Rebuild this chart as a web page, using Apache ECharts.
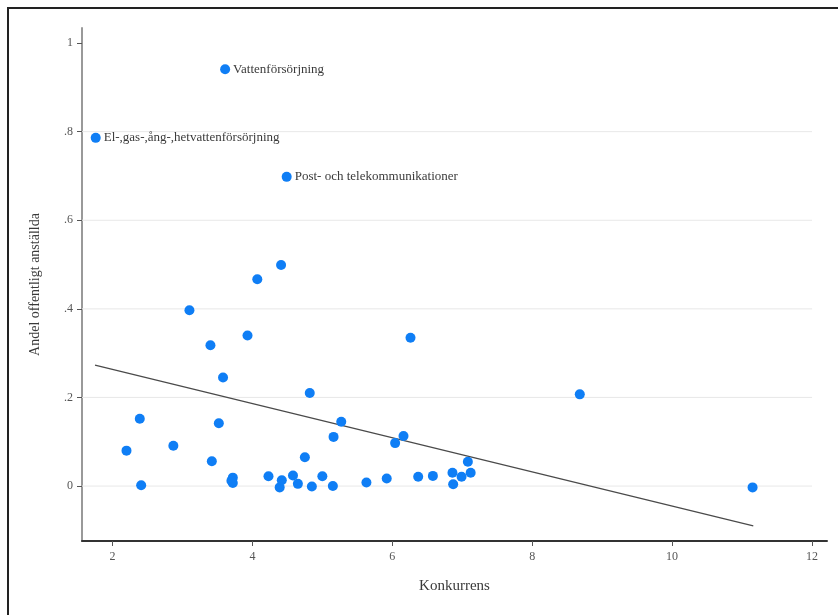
<!DOCTYPE html>
<html>
<head>
<meta charset="utf-8">
<style>html,body{margin:0;padding:0;background:#fff;}#c{width:838px;height:615px;}</style>
<script src="https://cdn.jsdelivr.net/npm/echarts@6/dist/echarts.min.js"></script>
</head>
<body>
<div id="c"></div>
<script>
// Data
var konkurrens = [1.76, 3.61, 4.49, 2.20, 2.39, 2.41, 2.87, 3.10, 3.40, 3.42, 3.52, 3.58, 3.72, 3.72, 3.70,
  3.93, 4.07, 4.23, 4.41, 4.39, 4.42, 4.58, 4.65, 4.75, 4.82, 4.85, 5.00, 5.16, 5.15, 5.27,
  5.63, 5.92, 6.04, 6.16, 6.26, 6.37, 6.58, 6.86, 6.87, 6.99, 7.12, 7.08, 8.68, 11.15];
var andel = [0.786, 0.941, 0.698, 0.080, 0.152, 0.002, 0.091, 0.397, 0.318, 0.056, 0.142, 0.245, 0.019, 0.007, 0.012,
  0.340, 0.467, 0.022, 0.499, -0.003, 0.013, 0.024, 0.005, 0.065, 0.210, -0.001, 0.022, 0.111, 0.000, 0.145,
  0.008, 0.017, 0.097, 0.113, 0.335, 0.021, 0.023, 0.030, 0.004, 0.021, 0.030, 0.055, 0.207, -0.003];
var pointLabels = ['El-,gas-,ång-,hetvattenförsörjning', 'Vattenförsörjning', 'Post- och telekommunikationer'];
var fitX = [1.75, 11.16];
var fitY = [0.273, -0.090];
var xTicks = [2, 4, 6, 8, 10, 12];
var yTicks = [0, 0.2, 0.4, 0.6, 0.8, 1];
var yTickLabels = ['0', '.2', '.4', '.6', '.8', '1'];
var gridYs = [0, 0.2, 0.4, 0.6, 0.8];

var xMin = 1.564, xMax = 12.214, yMin = -0.124, yMax = 1.034;
var serif = 'Liberation Serif';

var pts = konkurrens.map(function (x, i) {
  var item = { value: [x, andel[i]] };
  if (i < pointLabels.length) {
    item.name = pointLabels[i];
    item.label = { show: true, position: 'right', distance: 3, formatter: '{b}',
      fontFamily: serif, fontSize: 13, color: '#3a3a3a' };
  }
  return item;
});

var gridSeries = gridYs.map(function (y) {
  return {
    type: 'line', data: [[xMin, y], [12, y]], z: 1, silent: true, symbol: 'none',
    lineStyle: { color: '#e8e8e8', width: 1 }
  };
});

var chart = echarts.init(document.getElementById('c'), null, { renderer: 'canvas' });
chart.setOption({
  animation: false,
  backgroundColor: '#fff',
  graphic: [{
    type: 'rect', shape: { x: 8, y: 8, width: 845, height: 625 },
    style: { fill: 'none', stroke: '#222', lineWidth: 2 }, z: 100, silent: true
  }],
  grid: { left: 82, right: 11, top: 28, bottom: 74 },
  xAxis: {
    type: 'value', min: xMin, max: xMax,
    name: 'Konkurrens', nameLocation: 'middle', nameGap: 38,
    nameTextStyle: { fontFamily: serif, fontSize: 15, color: '#3a3a3a' },
    axisLine: { show: true, onZero: false, lineStyle: { color: '#333', width: 2 } },
    axisTick: { show: true, length: 5, customValues: xTicks, lineStyle: { color: '#555' } },
    axisLabel: { customValues: xTicks, fontFamily: serif, fontSize: 12, color: '#555', margin: 10 },
    splitLine: { show: false }
  },
  yAxis: {
    type: 'value', min: yMin, max: yMax,
    name: 'Andel offentligt anställda', nameLocation: 'middle', nameGap: 40, nameRotate: 90,
    nameTextStyle: { fontFamily: serif, fontSize: 14, color: '#3a3a3a' },
    axisLine: { show: true, onZero: false, lineStyle: { color: '#999', width: 2 } },
    axisTick: { show: true, length: 5, customValues: yTicks, lineStyle: { color: '#555' } },
    axisLabel: { customValues: yTicks, fontFamily: serif, fontSize: 12, color: '#555', margin: 9,
      formatter: function (v) { var i = yTicks.indexOf(Math.round(v * 10) / 10); return i >= 0 ? yTickLabels[i] : ''; } },
    splitLine: { show: false }
  },
  series: gridSeries.concat([
    {
      type: 'line', data: fitX.map(function (x, i) { return [x, fitY[i]]; }), z: 2,
      symbol: 'none', lineStyle: { color: '#4a4a4a', width: 1.2 }, silent: true
    },
    {
      type: 'scatter', data: pts, z: 3, symbolSize: 10,
      itemStyle: { color: '#0f7ef5', opacity: 1 }
    }
  ])
});
</script>
</body>
</html>
